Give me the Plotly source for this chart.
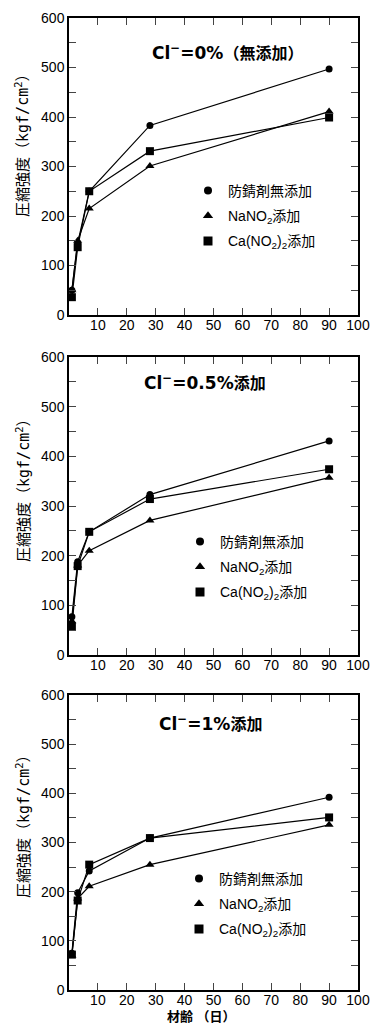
import plotly.graph_objects as go

days = [1, 3, 7, 28, 90]
series_names = ["防錆剤無添加", "NaNO<sub>2</sub>添加", "Ca(NO<sub>2</sub>)<sub>2</sub>添加"]
symbols = ["circle", "triangle-up", "square"]
marker_sizes = [7, 8, 8]

LAT = "DejaVu Sans, sans-serif"
KAN = "Noto Sans CJK JP, sans-serif"


def title_html(latin, kanji):
    return (f'<span style="font-family:{LAT};font-size:17px">{latin}</span>'
            f'<span style="font-family:{KAN};font-size:16px">{kanji}</span>')


panel_titles = [
    title_html("Cl<sup>−</sup>=0%", "（無添加）"),
    title_html("Cl<sup>−</sup>=0.5%", "添加"),
    title_html("Cl<sup>−</sup>=1%", "添加"),
]

# panel 1: Cl- = 0%
p1_none = [50, 145, 250, 383, 497]
p1_nano2 = [50, 150, 215, 301, 411]
p1_cano2 = [36, 137, 250, 331, 399]
# panel 2: Cl- = 0.5%
p2_none = [77, 188, 248, 323, 431]
p2_nano2 = [68, 180, 210, 271, 357]
p2_cano2 = [57, 179, 248, 314, 374]
# panel 3: Cl- = 1%
p3_none = [75, 198, 242, 309, 392]
p3_nano2 = [70, 186, 211, 255, 336]
p3_cano2 = [72, 182, 255, 309, 351]

panels = [
    [p1_none, p1_nano2, p1_cano2],
    [p2_none, p2_nano2, p2_cano2],
    [p3_none, p3_nano2, p3_cano2],
]

x_tickvals = [10, 20, 30, 40, 50, 60, 70, 80, 90, 100]
y_tickvals = [0, 100, 200, 300, 400, 500, 600]

FONT = "Liberation Sans, Noto Sans CJK JP, sans-serif"

W, H = 374, 1025
ML, MR, MT, MB = 69, 16, 18, 35
plot_h = H - MT - MB
plot_w = W - ML - MR

panel_px = [(18, 315), (357, 655), (695, 990)]


def py(p):
    return (H - MB - p) / plot_h


def px(p):
    return (p - ML) / plot_w


fig = go.Figure()
legend_pos = [(188, 175), (180, 526), (179, 863)]
title_pos = [(227, 52), (205, 382), (210, 723)]
ytitle_pos = [(22, 142), (22, 487), (22, 823)]

ytitle = ('<span style="font-family:Noto Sans CJK JP;font-size:15px">圧縮強度（</span>'
          '<span style="font-family:DejaVu Sans Mono;font-size:15px">kgf/cm<sup>2</sup></span>'
          '<span style="font-family:Noto Sans CJK JP;font-size:15px">）</span>')

for i, data in enumerate(panels):
    ax = "" if i == 0 else str(i + 1)
    top, bot = panel_px[i]
    leg = "legend" if i == 0 else f"legend{i+1}"
    for j, vals in enumerate(data):
        fig.add_trace(go.Scatter(
            x=days, y=vals, mode="lines+markers",
            name=series_names[j], showlegend=False,
            line=dict(color="black", width=1.2),
            marker=dict(symbol=symbols[j], size=marker_sizes[j], color="black"),
            xaxis="x" + ax, yaxis="y" + ax,
        ))
    for j in range(3):
        fig.add_trace(go.Scatter(
            x=[None], y=[None], mode="markers", name=series_names[j],
            marker=dict(symbol=symbols[j], size=marker_sizes[j] + 1, color="black"),
            xaxis="x" + ax, yaxis="y" + ax, legend=leg,
            legendgroup=f"g{i}{j}", showlegend=True,
        ))
    fig.update_layout(**{
        "xaxis" + ax: dict(
            domain=[0, 1], anchor="y" + ax, range=[0, 100], automargin=False,
            tickvals=x_tickvals, ticks="inside", ticklen=7, tickwidth=1.2,
            showline=True, linecolor="black", linewidth=1.5, mirror="ticks",
            showgrid=False, zeroline=False, ticklabelstandoff=-4,
            tickfont=dict(family=FONT, size=14, color="black"),
        ),
        "yaxis" + ax: dict(
            domain=[py(bot), py(top)], anchor="x" + ax, range=[0, 600], automargin=False,
            tickvals=y_tickvals, ticks="inside", ticklen=7, tickwidth=1.2,
            minor=dict(dtick=50, ticks="inside", ticklen=7, tickwidth=1.2, showgrid=False),
            showline=True, linecolor="black", linewidth=1.5, mirror="ticks",
            showgrid=False, zeroline=False,
            tickfont=dict(family=FONT, size=14, color="black"),
        ),
        leg: dict(
            x=px(legend_pos[i][0]), y=py(legend_pos[i][1]), xanchor="left", yanchor="top",
            bgcolor="rgba(0,0,0,0)", font=dict(family=FONT, size=14, color="black"),
            tracegroupgap=4, itemwidth=30,
        ),
    })
    fig.add_annotation(
        text="<b>" + panel_titles[i] + "</b>", xref="paper", yref="paper",
        x=px(title_pos[i][0]), y=py(title_pos[i][1]),
        xanchor="center", yanchor="middle", showarrow=False,
        font=dict(family=KAN, size=17, color="black"),
    )
    fig.add_annotation(
        text=ytitle, xref="paper", yref="paper",
        x=px(ytitle_pos[i][0]), y=py(ytitle_pos[i][1]), textangle=-90,
        xanchor="center", yanchor="middle", showarrow=False,
        font=dict(family=KAN, size=15, color="black"),
    )

fig.add_annotation(
    text="<b>材齢 （日）</b>", xref="paper", yref="paper",
    x=px(201), y=py(1025), xanchor="center", yanchor="bottom", showarrow=False,
    font=dict(family="Liberation Sans, Noto Sans CJK JP, sans-serif", size=13, color="black"),
    borderpad=0,
)

fig.update_layout(
    width=W, height=H, margin=dict(l=ML, r=MR, t=MT, b=MB),
    paper_bgcolor="white", plot_bgcolor="white", showlegend=True,
)

fig.write_html(
    "out.html",
    config={"displayModeBar": False},
    post_script="document.body.style.margin='0';document.body.style.overflow='hidden';",
)
